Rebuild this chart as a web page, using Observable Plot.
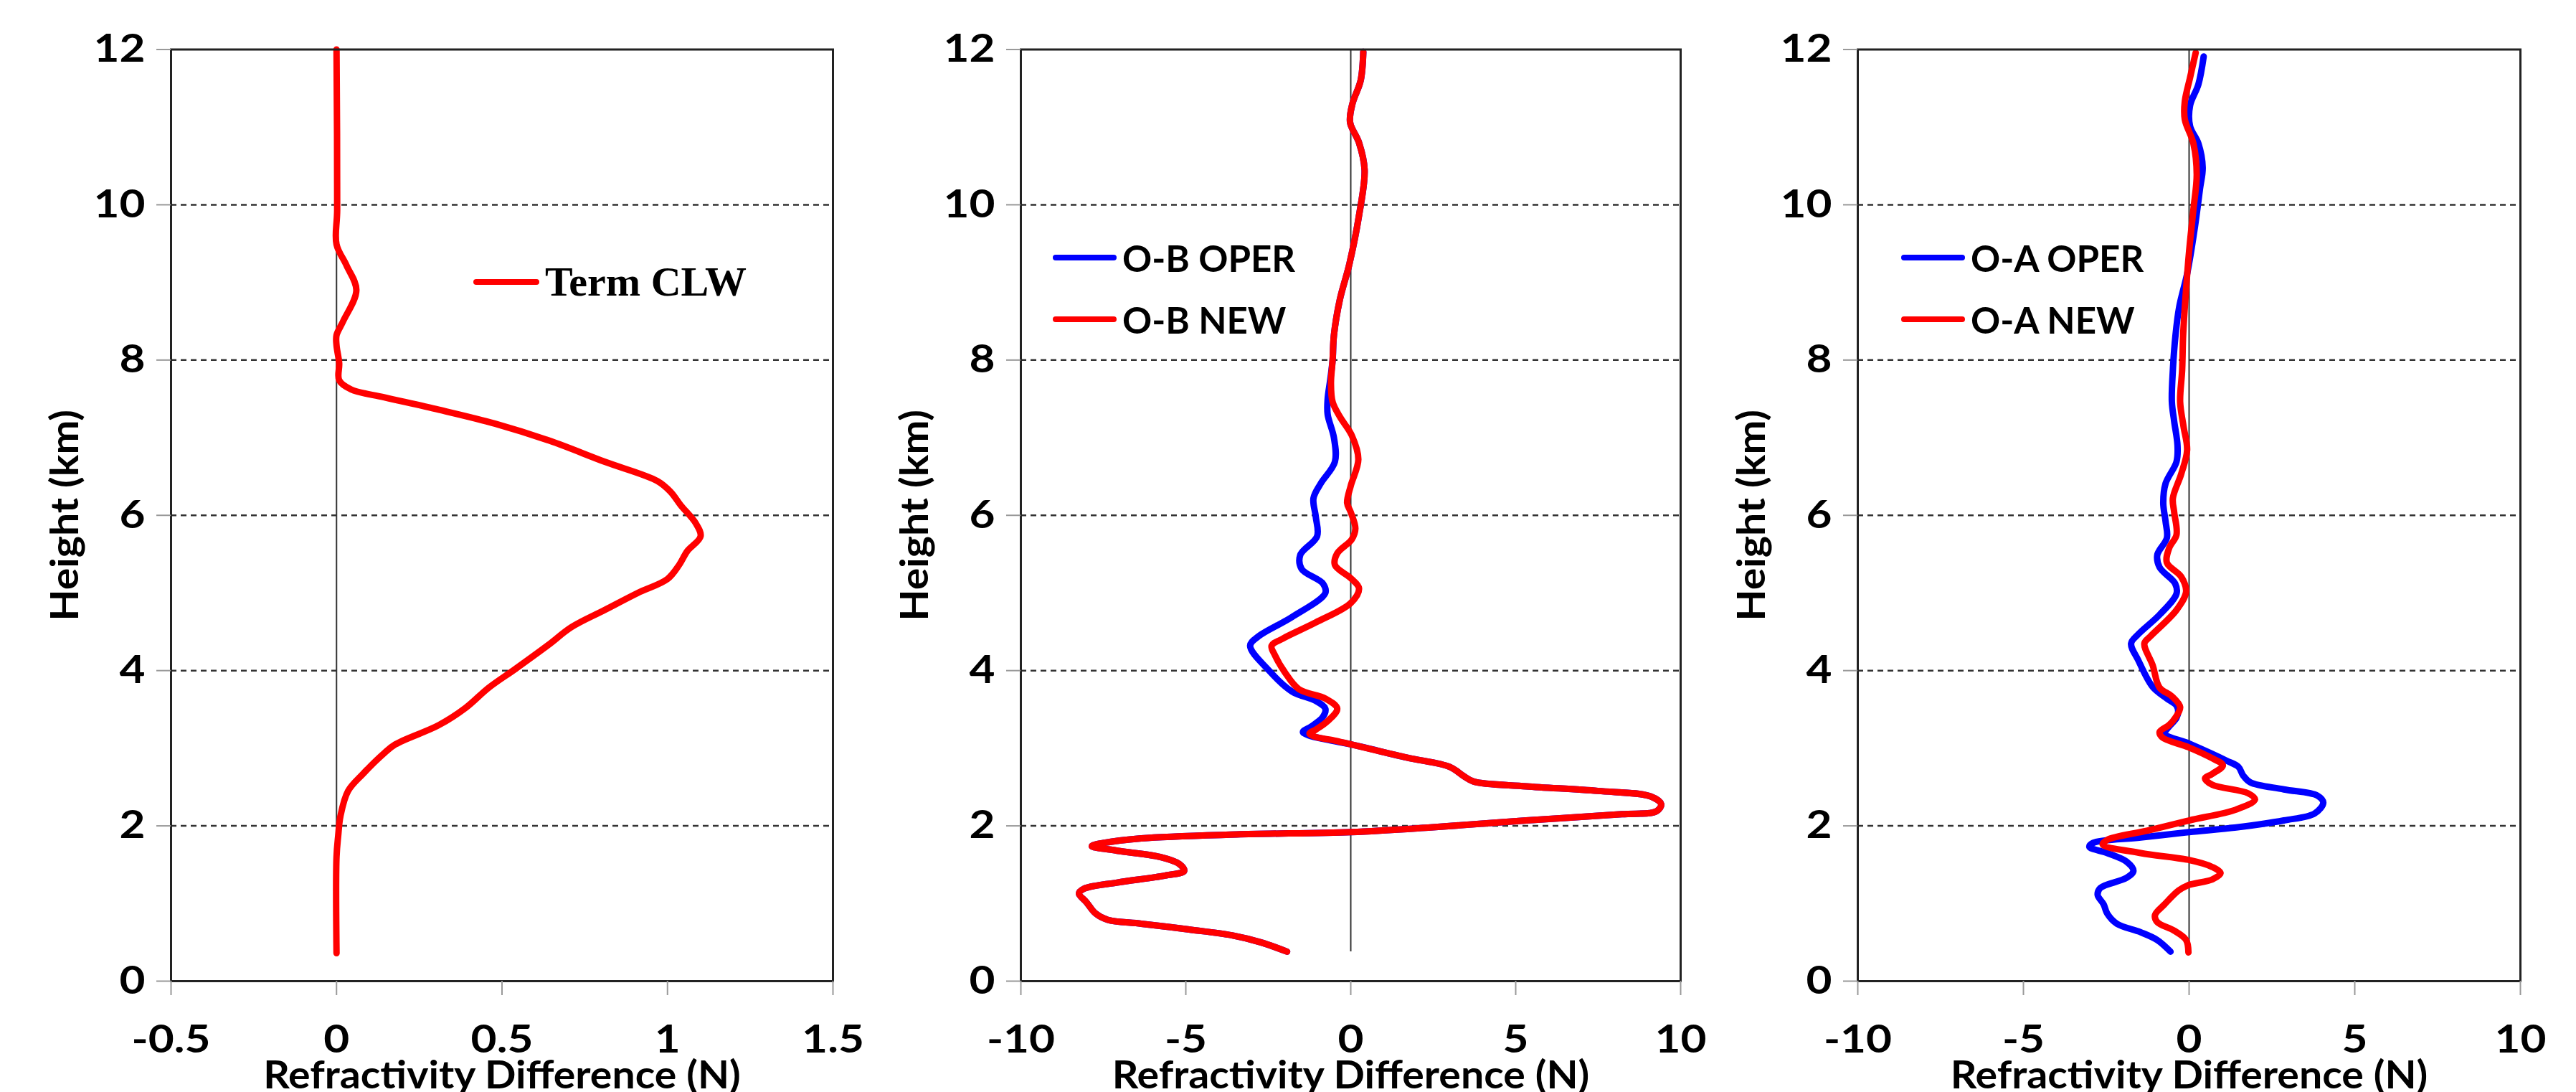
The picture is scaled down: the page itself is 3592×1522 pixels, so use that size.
<!DOCTYPE html>
<html>
<head>
<meta charset="utf-8">
<script src="https://cdn.jsdelivr.net/npm/d3@7"></script>
<script src="https://cdn.jsdelivr.net/npm/@observablehq/plot@0.6"></script>
<style>
html, body { margin: 0; padding: 0; background: #fff; }
#root { position: relative; width: 3592px; height: 1522px; overflow: hidden; background: #fff; }
.panel { position: absolute; top: 0; }
.panel svg { overflow: visible; background: transparent; }
.leg { position: absolute; display: flex; align-items: center; white-space: nowrap; line-height: 1; height: 70px; }
.leg .sw { display: inline-block; height: 8px; border-radius: 4px; flex: none; }
.leg .lab { font-family: Lato, sans-serif; font-weight: 700; font-size: 51px; color: #000; }
.leg .lab.serif { font-family: "Liberation Serif", serif; font-size: 58px; }
</style>
</head>
<body>
<div id="root"></div>
<script>
// ---------------- DATA ----------------
// Panel 1: Term CLW
const clwHeight = [0.36, 1.6, 1.87, 2.13, 2.45, 2.67, 2.94, 3.05, 3.3, 3.52, 3.78, 4.02, 4.33, 4.56, 4.78, 5.0, 5.18, 5.36, 5.54, 5.73, 5.9, 6.13, 6.3, 6.44, 6.69, 6.96, 7.18, 7.36, 7.52, 7.62, 7.74, 7.96, 8.19, 8.32, 8.5, 8.9, 9.22, 9.49, 9.94, 12.0];
const clwTerm   = [0.0, 0.0, 0.005, 0.012, 0.035, 0.08, 0.145, 0.178, 0.31, 0.39, 0.46, 0.54, 0.64, 0.71, 0.81, 0.91, 1.0, 1.035, 1.06, 1.1, 1.085, 1.04, 1.01, 0.97, 0.81, 0.644, 0.48, 0.31, 0.145, 0.045, 0.008, 0.008, 0.0, 0.0, 0.02, 0.06, 0.03, 0.0, 0.002, 0.0];

// Panel 2: O-B
const obOperHeight = [0.38, 0.50, 0.59, 0.665, 0.74, 0.79, 0.87, 1.02, 1.13, 1.19, 1.27, 1.36, 1.42, 1.51, 1.60, 1.68, 1.74, 1.78, 1.84, 1.89, 1.92, 1.98, 2.07, 2.15, 2.19, 2.28, 2.38, 2.45, 2.51, 2.57, 2.64, 2.76, 2.88, 3.05, 3.10, 3.17, 3.21, 3.28, 3.40, 3.51, 3.61, 3.73, 4.01, 4.32, 4.44, 4.69, 5.0, 5.12, 5.31, 5.49, 5.73, 5.98, 6.22, 6.41, 6.69, 7.0, 7.3, 7.5, 7.75, 8.0, 8.32, 8.78, 9.24, 9.86, 10.45, 10.8, 11.06, 11.3, 11.6, 11.97];
const obOper       = [-1.93, -2.73, -3.6, -4.9, -6.35, -7.37, -7.73, -8.02, -8.24, -8.09, -7.08, -5.63, -5.05, -5.2, -5.78, -7.08, -7.85, -7.5, -6.35, -3.46, 0.0, 2.42, 5.32, 8.22, 9.27, 9.41, 9.09, 7.49, 5.32, 3.73, 3.43, 3.0, 1.7, 0.0, -0.6, -1.3, -1.45, -1.2, -0.85, -0.77, -1.06, -1.78, -2.5, -3.05, -2.8, -1.78, -0.77, -0.84, -1.49, -1.53, -1.02, -1.06, -1.13, -0.91, -0.48, -0.51, -0.7, -0.7, -0.62, -0.55, -0.51, -0.33, -0.04, 0.25, 0.42, 0.25, -0.02, 0.05, 0.3, 0.38];
const obNewHeight  = [0.38, 0.50, 0.59, 0.665, 0.74, 0.79, 0.87, 1.02, 1.13, 1.19, 1.27, 1.36, 1.42, 1.51, 1.60, 1.68, 1.74, 1.78, 1.84, 1.89, 1.92, 1.98, 2.07, 2.15, 2.19, 2.28, 2.38, 2.45, 2.51, 2.57, 2.64, 2.76, 2.88, 3.05, 3.10, 3.15, 3.19, 3.24, 3.35, 3.51, 3.64, 3.76, 3.98, 4.20, 4.32, 4.41, 4.62, 4.87, 5.06, 5.19, 5.36, 5.51, 5.69, 5.83, 6.04, 6.16, 6.38, 6.72, 7.03, 7.27, 7.46, 7.7, 8.0, 8.32, 8.78, 9.24, 9.86, 10.45, 10.8, 11.06, 11.3, 11.6, 11.97];
const obNew        = [-1.93, -2.73, -3.6, -4.9, -6.35, -7.37, -7.73, -8.02, -8.24, -8.09, -7.08, -5.63, -5.05, -5.2, -5.78, -7.08, -7.85, -7.5, -6.35, -3.46, 0.0, 2.42, 5.32, 8.22, 9.27, 9.41, 9.09, 7.49, 5.32, 3.73, 3.43, 3.0, 1.7, 0.0, -0.5, -1.1, -1.25, -1.06, -0.7, -0.41, -0.77, -1.57, -2.0, -2.3, -2.4, -2.07, -1.06, 0.0, 0.25, 0.0, -0.48, -0.41, 0.03, 0.14, 0.0, -0.11, 0.0, 0.23, 0.03, -0.33, -0.55, -0.6, -0.55, -0.51, -0.33, -0.04, 0.25, 0.42, 0.25, -0.02, 0.05, 0.3, 0.38];

// Panel 3: O-A
const oaOperHeight = [0.38, 0.53, 0.63, 0.74, 0.87, 0.99, 1.11, 1.20, 1.33, 1.42, 1.54, 1.65, 1.73, 1.78, 1.85, 1.92, 1.98, 2.07, 2.16, 2.30, 2.39, 2.47, 2.56, 2.65, 2.76, 2.84, 3.06, 3.19, 3.27, 3.39, 3.47, 3.55, 3.64, 3.79, 4.13, 4.35, 4.47, 4.72, 4.99, 5.12, 5.33, 5.49, 5.71, 5.92, 6.16, 6.41, 6.69, 6.90, 7.21, 7.46, 7.87, 8.32, 8.68, 9.13, 9.67, 10.21, 10.48, 10.79, 11.01, 11.28, 11.55, 11.91];
const oaOper       = [-0.56, -0.96, -1.46, -2.18, -2.47, -2.58, -2.76, -2.68, -1.89, -1.68, -1.89, -2.47, -3.01, -2.9, -1.46, 0.0, 1.42, 2.86, 3.79, 4.05, 3.87, 2.86, 1.85, 1.63, 1.49, 1.13, 0.0, -0.74, -0.62, -0.38, -0.33, -0.38, -0.67, -1.1, -1.53, -1.75, -1.53, -0.89, -0.38, -0.42, -0.89, -0.96, -0.67, -0.71, -0.78, -0.71, -0.38, -0.35, -0.45, -0.52, -0.49, -0.41, -0.3, -0.05, 0.16, 0.33, 0.41, 0.28, 0.03, 0.03, 0.28, 0.44];
const oaNewHeight  = [0.37, 0.53, 0.65, 0.76, 0.85, 0.99, 1.17, 1.24, 1.31, 1.39, 1.47, 1.56, 1.65, 1.76, 1.82, 1.94, 2.07, 2.21, 2.34, 2.42, 2.53, 2.61, 2.67, 2.78, 2.87, 3.01, 3.14, 3.21, 3.30, 3.39, 3.53, 3.67, 3.78, 4.07, 4.35, 4.44, 4.78, 5.02, 5.21, 5.39, 5.58, 5.75, 6.04, 6.22, 6.53, 6.84, 7.15, 7.46, 7.87, 8.32, 8.86, 9.4, 9.94, 10.39, 10.79, 11.1, 11.33, 11.64, 11.96];
const oaNew        = [-0.02, -0.09, -0.45, -0.96, -1.03, -0.74, -0.31, 0.0, 0.7, 0.95, 0.7, 0.0, -1.46, -2.61, -2.47, -1.25, 0.0, 1.42, 1.99, 1.78, 0.7, 0.48, 0.7, 1.02, 0.7, 0.0, -0.81, -0.89, -0.6, -0.42, -0.27, -0.52, -0.89, -1.1, -1.35, -1.17, -0.38, -0.09, -0.24, -0.67, -0.6, -0.38, -0.45, -0.49, -0.24, -0.06, -0.17, -0.27, -0.21, -0.18, -0.1, 0.0, 0.13, 0.23, 0.13, -0.13, -0.13, 0.03, 0.2];

// Zero reference line (height range) and axes
const zeroLineHeight = [0.38, 12];
const xTicksPanel1 = [-0.5, 0, 0.5, 1, 1.5];
const xTicksPanel23 = [-10, -5, 0, 5, 10];
const yTicks = [0, 2, 4, 6, 8, 10, 12];
const gridHeights = [2, 4, 6, 8, 10];
const xTitle = "Refractivity Difference (N)";
const yTitle = "Height (km)";
const legendPanel1 = ["Term CLW"];
const legendPanel2 = ["O-B OPER", "O-B NEW"];
const legendPanel3 = ["O-A OPER", "O-A NEW"];
const seriesColors = ["#0000ff", "#ff0000"];

// ---------------- CHARTS ----------------
const root = document.getElementById("root");
const rows = (hs, vs) => hs.map((h, i) => ({x: vs[i], y: h}));

function widen(svg, selector, k) {
  svg.querySelectorAll(selector).forEach(t => {
    const len = t.getComputedTextLength();
    if (len > 0) {
      t.setAttribute("textLength", (len * k).toFixed(1));
      t.setAttribute("lengthAdjust", "spacingAndGlyphs");
    }
  });
}

function makePanel(cfg) {
  const marks = [
    Plot.ruleY(gridHeights, {stroke: "#333", strokeWidth: 2.5, strokeDasharray: "8,6"}),
    Plot.ruleX([{x: 0, y1: zeroLineHeight[0], y2: zeroLineHeight[1]}], {x: "x", y1: "y1", y2: "y2", stroke: "#333", strokeWidth: 2}),
    ...cfg.series.map(s => Plot.line(rows(s.h, s.v), {
      x: "x", y: "y", stroke: s.color, strokeWidth: 9, curve: "catmull-rom",
      strokeLinejoin: "round", strokeLinecap: "round"
    })),
    Plot.frame({stroke: "#222", strokeWidth: 3}),
    Plot.axisX({ticks: cfg.xTicks, tickFormat: d => String(d), tickSize: 20, tickPadding: 41, stroke: "#999", strokeWidth: 2, label: null}),
    Plot.axisY({ticks: yTicks, tickFormat: d => String(d), tickSize: 20, tickPadding: 16, stroke: "#999", strokeWidth: 2, label: null}),
    Plot.text([xTitle], {text: d => d, frameAnchor: "bottom", textAnchor: "middle", dy: 132, lineAnchor: "middle"}),
    Plot.text([yTitle], {text: d => d, frameAnchor: "left", textAnchor: "middle", dx: -147, rotate: -90, lineAnchor: "middle"})
  ];
  const chart = Plot.plot({
    width: cfg.width,
    height: 1522,
    marginTop: 68.5,
    marginBottom: 155,
    marginLeft: cfg.marginLeft,
    marginRight: cfg.marginRight,
    x: {domain: cfg.xDomain},
    y: {domain: [0, 12]},
    style: {fontFamily: "Lato, sans-serif", fontSize: "54px", fontWeight: "700", color: "#000", background: "transparent", overflow: "visible"},
    marks
  });
  const div = document.createElement("div");
  div.className = "panel";
  div.style.left = cfg.left + "px";
  div.appendChild(chart);
  root.appendChild(div);
  // emulate the horizontally stretched lettering of the original figure
  widen(chart, 'g[aria-label="x-axis tick label"] text, g[aria-label="y-axis tick label"] text', 1.15);
  widen(chart, 'g[aria-label="text"] text', 1.06);
}

function addLegend(x, y, swatchW, color, label, serif) {
  const d = document.createElement("div");
  d.className = "leg";
  d.style.left = x + "px";
  d.style.top = (y - 35) + "px";
  const sw = document.createElement("span");
  sw.className = "sw";
  sw.style.width = swatchW + "px";
  sw.style.background = color;
  const lab = document.createElement("span");
  lab.className = "lab" + (serif ? " serif" : "");
  lab.style.marginLeft = "8px";
  lab.textContent = label;
  d.appendChild(sw);
  d.appendChild(lab);
  root.appendChild(d);
}

makePanel({
  left: 0, width: 1200, marginLeft: 238, marginRight: 39,
  xDomain: [-0.5, 1.5], xTicks: xTicksPanel1,
  series: [{h: clwHeight, v: clwTerm, color: seriesColors[1]}]
});
makePanel({
  left: 1200, width: 1200, marginLeft: 223, marginRight: 57,
  xDomain: [-10, 10], xTicks: xTicksPanel23,
  series: [{h: obOperHeight, v: obOper, color: seriesColors[0]}, {h: obNewHeight, v: obNew, color: seriesColors[1]}]
});
makePanel({
  left: 2400, width: 1192, marginLeft: 190, marginRight: 78,
  xDomain: [-10, 10], xTicks: xTicksPanel23,
  series: [{h: oaOperHeight, v: oaOper, color: seriesColors[0]}, {h: oaNewHeight, v: oaNew, color: seriesColors[1]}]
});

addLegend(660, 393, 92, seriesColors[1], legendPanel1[0], true);
addLegend(1468, 359, 89, seriesColors[0], legendPanel2[0], false);
addLegend(1468, 445, 89, seriesColors[1], legendPanel2[1], false);
addLegend(2651, 359, 89, seriesColors[0], legendPanel3[0], false);
addLegend(2651, 445, 89, seriesColors[1], legendPanel3[1], false);
</script>
</body>
</html>
